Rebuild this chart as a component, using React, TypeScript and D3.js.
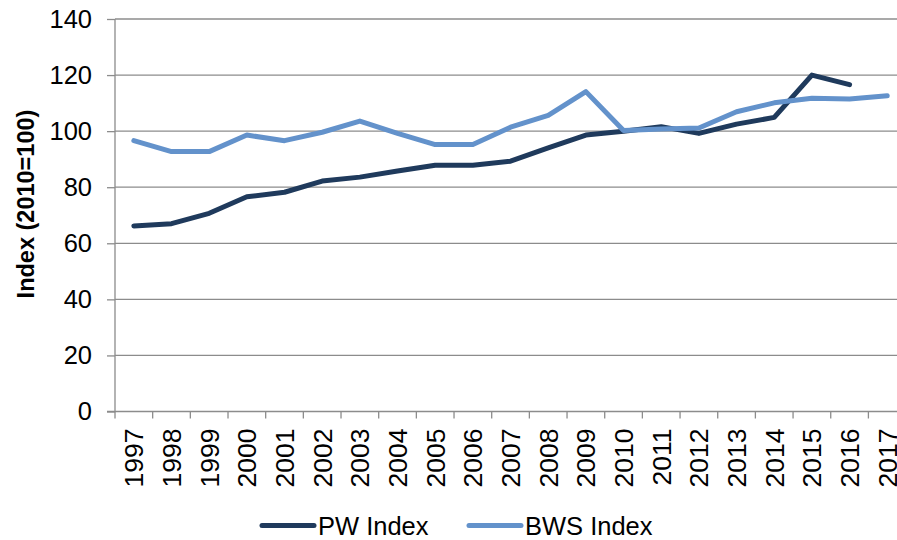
import React, { useEffect, useRef } from "react";
import * as d3 from "d3";

const years = ["1997", "1998", "1999", "2000", "2001", "2002", "2003", "2004", "2005", "2006", "2007",
  "2008", "2009", "2010", "2011", "2012", "2013", "2014", "2015", "2016", "2017"];
const pwIndex = [66.2, 67, 70.7, 76.6, 78.2, 82.2, 83.6, 85.8, 87.8, 87.8, 89.3,
  94, 98.6, 100, 101.6, 99.2, 102.5, 104.9, 120, 116.6, null];
const bwsIndex = [96.6, 92.7, 92.7, 98.6, 96.6, 99.6, 103.6, 99.2, 95.2, 95.2, 101.4,
  105.6, 114.1, 100.2, 100.8, 101.1, 106.9, 110.1, 111.7, 111.5, 112.6];
const yTicks = [0, 20, 40, 60, 80, 100, 120, 140];

export default function App() {
  const ref = useRef<SVGSVGElement>(null);

  useEffect(() => {
    const svg = d3.select(ref.current);
    svg.selectAll("*").remove();

    const left = 115, top = 19, bottom = 411.5, step = 37.67;
    const font = "'Liberation Sans', Arial, sans-serif";

    const x = d3.scaleBand().domain(years).range([left, left + step * years.length]);
    const y = d3.scaleLinear().domain([0, 140]).range([bottom, top]);

    const g = svg.append("g");

    // gridlines
    g.selectAll(".grid").data(yTicks.filter(d => d > 0)).join("line")
      .attr("x1", left).attr("x2", 897)
      .attr("y1", d => y(d)).attr("y2", d => y(d))
      .attr("stroke", "#8c8c8c").attr("stroke-width", 1.3);

    // y axis
    const yAxis = g.append("g").attr("transform", `translate(${left},0)`)
      .call(d3.axisLeft(y).tickValues(yTicks).tickSize(8).tickPadding(15));
    yAxis.select(".domain").attr("stroke", "#8c8c8c").attr("stroke-width", 1.3).attr("d", `M-8,${bottom}H0V${top}`);
    yAxis.selectAll(".tick line").attr("stroke", "#8c8c8c").attr("stroke-width", 1.3);
    yAxis.selectAll(".tick text").attr("font-family", font).attr("font-size", 25.5).attr("fill", "#000");

    // x axis (the last label runs off the right edge, as in the source)
    const xAxis = g.append("g").attr("transform", `translate(0,${bottom})`);
    xAxis.append("line").attr("x1", left).attr("x2", 897).attr("y1", 0).attr("y2", 0)
      .attr("stroke", "#8c8c8c").attr("stroke-width", 1.3);
    xAxis.selectAll(".xt").data(years).join("line")
      .attr("x1", d => x(d)!).attr("x2", d => x(d)!)
      .attr("y1", 0).attr("y2", 7)
      .attr("stroke", "#8c8c8c").attr("stroke-width", 1.3);
    xAxis.selectAll(".xl").data(years).join("text")
      .attr("transform", d => `translate(${x(d)! + x.bandwidth() / 2 + 9.5},${17}) rotate(-90)`)
      .attr("text-anchor", "end")
      .attr("font-family", font).attr("font-size", 26.5)
      .text(d => d);

    // y title
    svg.append("text")
      .attr("transform", `translate(34,204) rotate(-90)`)
      .attr("text-anchor", "middle")
      .attr("font-family", font).attr("font-size", 23.5).attr("font-weight", "bold")
      .text("Index (2010=100)");

    const series = [
      { name: "PW Index", values: pwIndex, color: "#1f3a5c" },
      { name: "BWS Index", values: bwsIndex, color: "#6392cb" },
    ];

    const line = d3.line<number | null>()
      .defined(d => d != null)
      .x((_, i) => x(years[i])! + x.bandwidth() / 2)
      .y(d => y(d as number));

    series.forEach(s => {
      g.append("path").datum(s.values)
        .attr("d", line)
        .attr("fill", "none")
        .attr("stroke", s.color)
        .attr("stroke-width", 5)
        .attr("stroke-linejoin", "round")
        .attr("stroke-linecap", "round");
    });

    // legend
    const legendX = [262, 469];
    const legend = svg.selectAll(".leg").data(series).join("g")
      .attr("transform", (_, i) => `translate(${legendX[i]},525.5)`);
    legend.append("line").attr("x1", 0).attr("x2", 52).attr("y1", 0).attr("y2", 0)
      .attr("stroke", d => d.color).attr("stroke-width", 5).attr("stroke-linecap", "round");
    legend.append("text").attr("x", 56).attr("y", 9)
      .attr("font-family", font).attr("font-size", 25.5)
      .text(d => d.name);
  }, []);

  return <svg ref={ref} width={897} height={540} style={{ position: "absolute", left: 0, top: 0, background: "#fff" }} />;
}
